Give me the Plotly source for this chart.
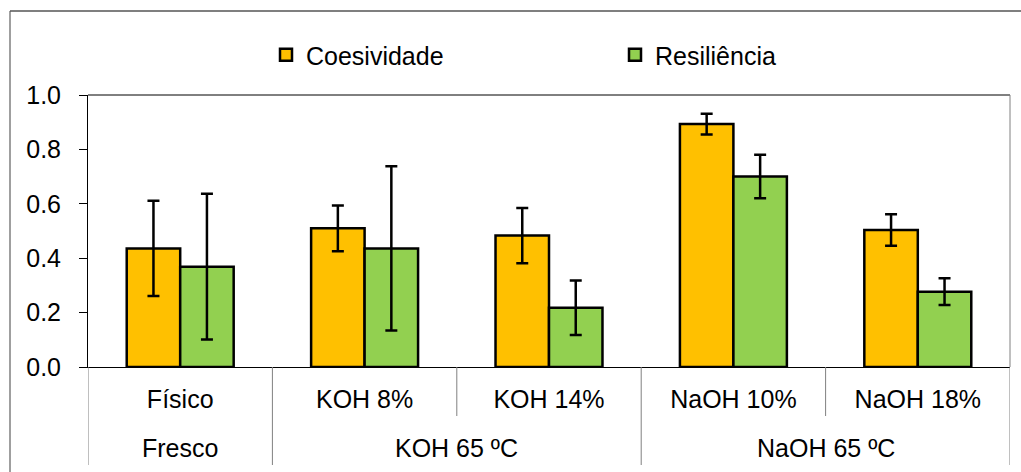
import plotly.graph_objects as go

categories = ["Físico", "KOH 8%", "KOH 14%", "NaOH 10%", "NaOH 18%"]
groups = ["Fresco", "KOH 65 ºC", "NaOH 65 ºC"]
group_centers = [0, 1.5, 3.5]

coesividade = [0.436, 0.510, 0.483, 0.893, 0.504]
coesividade_err = [0.175, 0.084, 0.102, 0.038, 0.058]
resiliencia = [0.369, 0.436, 0.218, 0.700, 0.277]
resiliencia_err = [0.268, 0.302, 0.100, 0.080, 0.049]

y_ticks = [0.0, 0.2, 0.4, 0.6, 0.8, 1.0]

FONT = "Liberation Sans, Arial, sans-serif"
FS = 25
W, H = 1021, 472
ML, MR, MT, MB = 88, 11, 95, 105
PH = H - MT - MB
PW = W - ML - MR

def py(px):
    return (H - MB - px) / PH

def pxr(px):
    return (px - ML) / PW

fig = go.Figure()
fig.add_trace(go.Bar(
    name="Coesividade", x=categories, y=coesividade,
    marker=dict(color="#FFC000", line=dict(color="black", width=2.5)),
    error_y=dict(type="data", array=coesividade_err, color="black", thickness=2.5, width=6),
))
fig.add_trace(go.Bar(
    name="Resiliência", x=categories, y=resiliencia,
    marker=dict(color="#92D050", line=dict(color="black", width=2.5)),
    error_y=dict(type="data", array=resiliencia_err, color="black", thickness=2.5, width=6),
))

shapes = []
div_color = "#808080"
for xv in [-0.5, 0.5, 2.5, 4.5]:
    shapes.append(dict(type="line", xref="x", yref="paper", x0=xv, x1=xv,
                       y0=0, y1=py(465), line=dict(color=div_color, width=1)))
for xv in [1.5, 3.5]:
    shapes.append(dict(type="line", xref="x", yref="paper", x0=xv, x1=xv,
                       y0=0, y1=py(416), line=dict(color=div_color, width=1)))
shapes.append(dict(type="line", xref="paper", yref="paper", x0=0, x1=1, y0=1, y1=1,
                   line=dict(color="black", width=1)))
shapes.append(dict(type="line", xref="paper", yref="paper", x0=1, x1=1, y0=0, y1=1,
                   line=dict(color=div_color, width=1)))
shapes.append(dict(type="line", xref="paper", yref="paper", x0=pxr(10), x1=pxr(10),
                   y0=py(11), y1=py(480), line=dict(color="#7f7f7f", width=1.5)))
shapes.append(dict(type="line", xref="paper", yref="paper", x0=pxr(10), x1=pxr(1030),
                   y0=py(11), y1=py(11), line=dict(color="#555555", width=1.5)))

annotations = []
for g, c in zip(groups, group_centers):
    annotations.append(dict(text=g, x=c, xref="x", y=py(448), yref="paper",
                            showarrow=False, yanchor="middle", xanchor="center",
                            font=dict(family=FONT, size=FS, color="black")))

fig.update_layout(
    width=W, height=H,
    margin=dict(l=ML, r=MR, t=MT, b=MB, autoexpand=False),
    paper_bgcolor="white", plot_bgcolor="white",
    barmode="group", bargap=0.42, bargroupgap=0,
    font=dict(family=FONT, size=FS, color="black"),
    showlegend=True,
    legend=dict(orientation="h", x=pxr(266), xanchor="left", y=py(55), yanchor="middle",
                font=dict(family=FONT, size=FS, color="black"),
                entrywidth=304, itemwidth=30, bgcolor="rgba(0,0,0,0)"),
    xaxis=dict(type="category", range=[-0.5, 4.5], showgrid=False, showline=True,
               linecolor="black", linewidth=1, ticks="", ticklabelstandoff=10,
               tickfont=dict(family=FONT, size=FS, color="black"), zeroline=False),
    yaxis=dict(range=[0, 1.0], tickvals=y_ticks, tickformat=".1f", showgrid=False,
               showline=True, linecolor="black", linewidth=1, ticks="outside",
               ticklen=8, tickcolor="black", ticklabelstandoff=13, zeroline=False,
               tickfont=dict(family=FONT, size=FS, color="black")),
    shapes=shapes, annotations=annotations,
)

fig.write_html("out.html", config={"displayModeBar": False},
               post_script="document.body.style.margin='0';document.body.style.overflow='hidden';")
